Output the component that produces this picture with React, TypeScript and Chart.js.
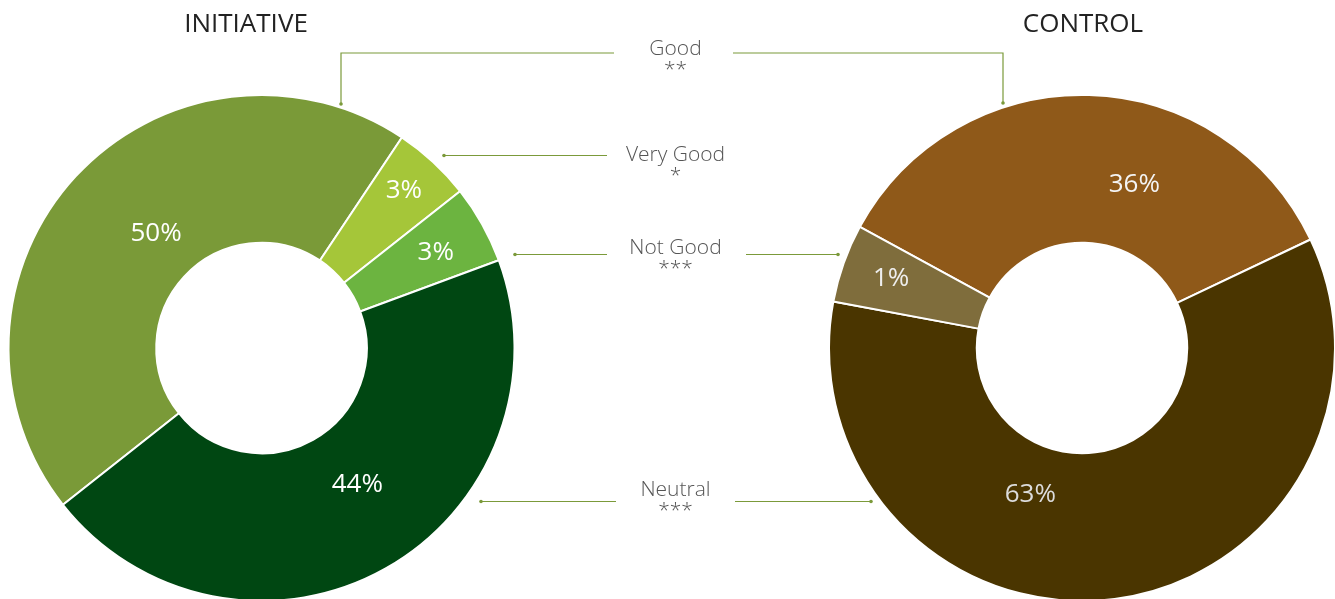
import { useEffect, useRef } from "react";
import { Chart, registerables } from "chart.js";

Chart.register(...registerables);

// ---------- data ----------
const initiativeCategories = ["Good", "Very Good", "Not Good", "Neutral"];
const initiativeArcShares = [45, 5, 5, 45]; // slice sizes as drawn
const initiativePctLabels = ["50%", "3%", "3%", "44%"]; // printed values

const controlCategories = ["Good", "Neutral", "Not Good"];
const controlArcShares = [35, 60, 5];
const controlPctLabels = ["36%", "63%", "1%"];

const legendNames = ["Good", "Very Good", "Not Good", "Neutral"];
const legendStars = ["**", "*", "***", "***"];

const chartTitles = ["INITIATIVE", "CONTROL"];

// ---------- styles / layout ----------
const W = 1335;
const H = 599;
const CY = 348;
const LEFT_CX = 261.5;
const RIGHT_CX = 1082;
const OUTER_R = 253;
const INNER_R = 104;
const FONT = '"Open Sans", "Noto Sans", sans-serif';
const LINE_COLOR = "#7b9a3a";
const TEXT_GRAY = "#555555";

const initiativeColors = ["#7a9a38", "#a5c639", "#6cb440", "#004712"];
const controlColors = ["#8f5919", "#4a3500", "#7f6d3c"];

// label placement inside each slice: fraction along the angle, fraction across the ring
const initiativeLabelAngleFrac = [0.532, 0.45, 0.51, 0.462];
const initiativeLabelRadFrac = [0.352, 0.733, 0.638, 0.406];
const controlLabelAngleFrac = [0.627, 0.625, 0.55];
const controlLabelRadFrac = [0.458, 0.33, 0.667];

// middle legend rows
const LEGEND_CX = 675.5;
const legendBaselines = [55, 161, 253.5, 496];
const connectorYs = [53, 155.5, 254.5, 501.5];

type Connector = { row: number; dx: number; textEdge: number; elbowDotY?: number };
const leftConnectors: Connector[] = [
  { row: 0, dx: 79.5, textEdge: 614, elbowDotY: 104 },
  { row: 1, dx: 182.5, textEdge: 607 },
  { row: 2, dx: 253.5, textEdge: 607 },
  { row: 3, dx: 219.5, textEdge: 616 },
];
const rightConnectors: Connector[] = [
  { row: 0, dx: 79, textEdge: 733, elbowDotY: 103 },
  { row: 2, dx: 244, textEdge: 746 },
  { row: 3, dx: 211, textEdge: 735 },
];

function makeDecor(opts: {
  pct: string[];
  angleFrac: number[];
  radFrac: number[];
  pctColors: string[];
  title: string;
  titleX: number;
  side: number;
  connectors: Connector[];
  drawLegend: boolean;
}) {
  return {
    id: "decor",
    afterDatasetsDraw(chart: any) {
      const ctx: CanvasRenderingContext2D = chart.ctx;
      const meta = chart.getDatasetMeta(0);
      const arcs = meta.data;
      if (!arcs.length) return;
      const cx = arcs[0].x;
      ctx.save();

      // percentage labels
      ctx.font = `400 26px ${FONT}`;
      ctx.textAlign = "center";
      ctx.textBaseline = "alphabetic";
      arcs.forEach((arc: any, i: number) => {
        const a = arc.startAngle + opts.angleFrac[i] * (arc.endAngle - arc.startAngle);
        const r = arc.innerRadius + opts.radFrac[i] * (arc.outerRadius - arc.innerRadius);
        ctx.fillStyle = opts.pctColors[i];
        ctx.fillText(opts.pct[i], arc.x + Math.cos(a) * r, arc.y + Math.sin(a) * r + 9.3);
      });

      // title
      ctx.font = `400 26px ${FONT}`;
      ctx.fillStyle = "#222222";
      ctx.fillText(opts.title, opts.titleX, 32);

      // connectors
      ctx.strokeStyle = LINE_COLOR;
      ctx.fillStyle = LINE_COLOR;
      ctx.lineWidth = 1.2;
      opts.connectors.forEach((c) => {
        const y = connectorYs[c.row];
        const x0 = cx + opts.side * c.dx;
        ctx.beginPath();
        if (c.elbowDotY !== undefined) {
          ctx.moveTo(x0, c.elbowDotY);
          ctx.lineTo(x0, y);
          ctx.lineTo(c.textEdge, y);
          ctx.stroke();
          ctx.beginPath();
          ctx.arc(x0, c.elbowDotY, 1.8, 0, Math.PI * 2);
          ctx.fill();
        } else {
          ctx.moveTo(x0, y);
          ctx.lineTo(c.textEdge, y);
          ctx.stroke();
          ctx.beginPath();
          ctx.arc(x0, y, 1.8, 0, Math.PI * 2);
          ctx.fill();
        }
      });

      // middle legend
      if (opts.drawLegend) {
        ctx.fillStyle = TEXT_GRAY;
        ctx.font = `300 21px ${FONT}`;
        ctx.textAlign = "center";
        legendNames.forEach((name, i) => {
          ctx.fillText(name, LEGEND_CX, legendBaselines[i]);
          ctx.fillText(legendStars[i], LEGEND_CX, legendBaselines[i] + 21);
        });
      }
      ctx.restore();
    },
  };
}

export default function App() {
  const leftRef = useRef<HTMLCanvasElement>(null);
  const rightRef = useRef<HTMLCanvasElement>(null);

  useEffect(() => {
    const common = (padLeft: number, padRight: number) => ({
      responsive: false,
      animation: false as const,
      devicePixelRatio: 1,
      events: [] as any[],
      radius: OUTER_R,
      cutout: INNER_R,
      layout: { padding: { left: padLeft, right: padRight, top: 2 * CY - H, bottom: 0 } },
      plugins: { legend: { display: false }, tooltip: { enabled: false }, title: { display: false } },
    });

    const left = new Chart(leftRef.current!, {
      type: "doughnut",
      data: {
        labels: initiativeCategories,
        datasets: [
          {
            data: initiativeArcShares,
            backgroundColor: initiativeColors,
            borderColor: "#ffffff",
            borderWidth: 2,
            clip: false as any,
          },
        ],
      },
      options: { ...common(0, W - 2 * LEFT_CX), rotation: 231.7 } as any,
      plugins: [
        makeDecor({
          pct: initiativePctLabels,
          angleFrac: initiativeLabelAngleFrac,
          radFrac: initiativeLabelRadFrac,
          pctColors: ["#ffffff", "#ffffff", "#ffffff", "#ffffff"],
          title: chartTitles[0],
          titleX: 246,
          side: 1,
          connectors: leftConnectors,
          drawLegend: true,
        }),
      ],
    });

    const right = new Chart(rightRef.current!, {
      type: "doughnut",
      data: {
        labels: controlCategories,
        datasets: [
          {
            data: controlArcShares,
            backgroundColor: controlColors,
            borderColor: "#ffffff",
            borderWidth: 2,
            clip: false as any,
          },
        ],
      },
      options: { ...common(2 * RIGHT_CX - W, 0), rotation: 298.6 } as any,
      plugins: [
        makeDecor({
          pct: controlPctLabels,
          angleFrac: controlLabelAngleFrac,
          radFrac: controlLabelRadFrac,
          pctColors: ["#f4f4f4", "#dcdcdc", "#eeeeee"],
          title: chartTitles[1],
          titleX: 1083,
          side: -1,
          connectors: rightConnectors,
          drawLegend: false,
        }),
      ],
    });

    return () => {
      left.destroy();
      right.destroy();
    };
  }, []);

  const canvasStyle: React.CSSProperties = {
    position: "absolute",
    left: 0,
    top: 0,
    width: W,
    height: H,
  };

  return (
    <div
      style={{
        position: "fixed",
        left: 0,
        top: 0,
        width: W,
        height: H,
        overflow: "hidden",
        background: "#ffffff",
      }}
    >
      <canvas ref={rightRef} width={W} height={H} style={canvasStyle} />
      <canvas ref={leftRef} width={W} height={H} style={canvasStyle} />
    </div>
  );
}
